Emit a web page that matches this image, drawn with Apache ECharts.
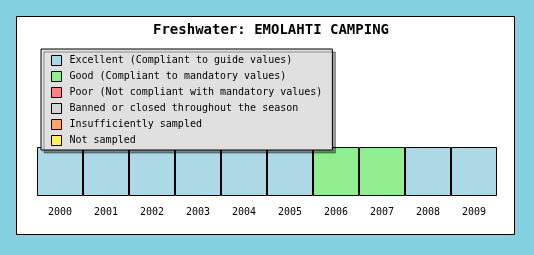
<!DOCTYPE html>
<html><head><meta charset="utf-8">
<script src="https://cdn.jsdelivr.net/npm/echarts@6/dist/echarts.min.js"></script>
<style>html,body{margin:0;padding:0;background:#82D0E0}#c{width:534px;height:255px}</style>
</head><body><div id="c"></div>
<script>
const years = ['2000','2001','2002','2003','2004','2005','2006','2007','2008','2009'];
const statusNames = [
  'Excellent (Compliant to guide values)',
  'Good (Compliant to mandatory values)',
  'Poor (Not compliant with mandatory values)',
  'Banned or closed throughout the season',
  'Insufficiently sampled',
  'Not sampled'
];
const statusColors = ['#ADD8E6','#90EE90','#FF8080','#D6D6D6','#FFA366','#FFEE66'];
// status index per year
const yearStatus = [0,0,0,0,0,0,1,1,0,0];

const FONT = 'DejaVu Sans Mono';
const series = statusNames.map((name, si) => ({
  name: name,
  type: 'bar',
  barGap: '-100%',
  barCategoryGap: 0,
  itemStyle: { color: statusColors[si], borderColor: '#000', borderWidth: 1 },
  data: yearStatus.map(s => s === si ? 1 : '-'),
  animation: false
}));

const chart = echarts.init(document.getElementById('c'), null, {renderer:'canvas'});
chart.setOption({
  backgroundColor: '#82D0E0',
  animation: false,
  graphic: [{
    type: 'rect', z: -10, silent: true,
    shape: { x: 16.5, y: 16.5, width: 498, height: 218 },
    style: { fill: '#fff', stroke: '#000', lineWidth: 1 }
  }],
  title: {
    text: 'Freshwater: EMOLAHTI CAMPING',
    left: 266, top: 18, textAlign: 'center',
    textStyle: { fontFamily: FONT, fontSize: 14, fontWeight: 'bold', color: '#000' }
  },
  legend: {
    orient: 'vertical',
    left: 41, top: 49,
    itemWidth: 10, itemHeight: 10, itemGap: 5,
    padding: [6, 10, 4, 10],
    backgroundColor: '#E0E0E0',
    borderColor: '#000', borderWidth: 1, borderRadius: 0,
    shadowColor: 'rgba(0,0,0,0.38)', shadowBlur: 0, shadowOffsetX: 3, shadowOffsetY: 3,
    icon: 'rect',
    selectedMode: false,
    itemStyle: { borderWidth: 1, borderColor: '#000' },
    textStyle: { fontFamily: FONT, fontSize: 10, color: '#000', padding: [0,0,0,3] },
    data: statusNames
  },
  grid: { left: 37, top: 147, width: 460, height: 49, containLabel: false },
  xAxis: {
    type: 'category', data: years,
    axisLine: { show: false }, axisTick: { show: false },
    axisLabel: { fontFamily: FONT, fontSize: 10, color: '#000', margin: 11 }
  },
  yAxis: { type: 'value', min: 0, max: 1, show: false, splitLine: { show: false } },
  series: series
});
</script></body></html>
